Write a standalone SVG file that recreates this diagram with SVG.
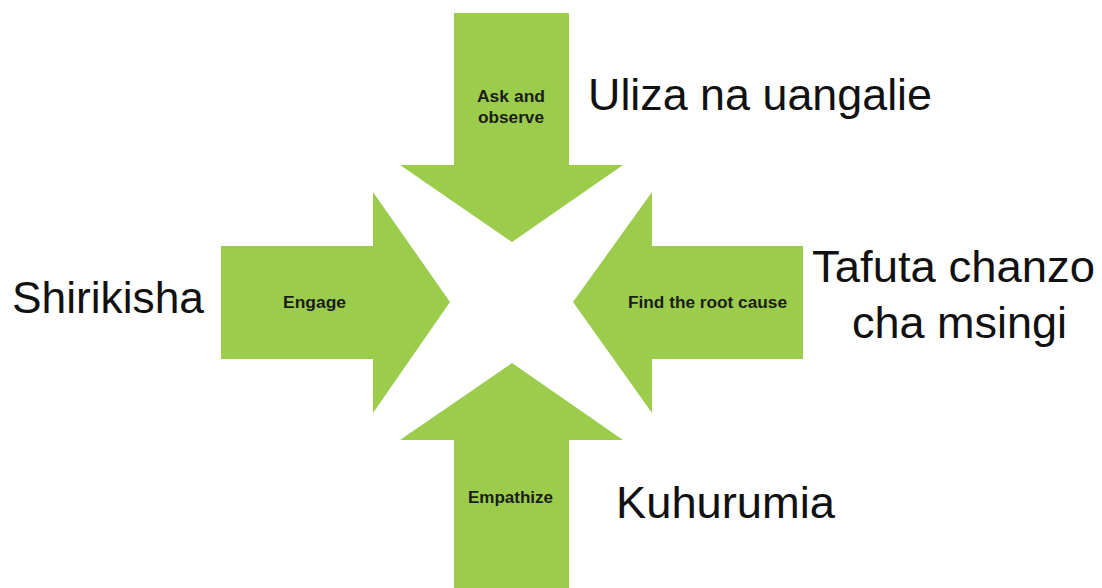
<svg xmlns="http://www.w3.org/2000/svg" width="1102" height="588" viewBox="0 0 1102 588">
<style>
.arrow{fill:#9bcc4c}
.lbl{font-family:"Liberation Sans",Arial,sans-serif;font-weight:bold;font-size:16px;fill:#1c1c1c;text-anchor:middle}
.big{font-family:"Liberation Sans",Arial,sans-serif;font-size:45px;fill:#111}
</style>
<rect width="1102" height="588" fill="#ffffff"/>
<g id="connectors"></g>
<g id="ask">
<polygon class="arrow" points="454,13 569,13 569,165 623,165 512,242 400,165 454,165"/>
<text class="lbl" x="511" y="102" textLength="68" lengthAdjust="spacingAndGlyphs">Ask and</text>
<text class="lbl" x="511" y="123" textLength="66" lengthAdjust="spacingAndGlyphs">observe</text>
</g>
<g id="engage">
<polygon class="arrow" points="221,246 373,246 373,192 450,302 373,413 373,359 221,359"/>
<text class="lbl" x="314.5" y="308" textLength="63" lengthAdjust="spacingAndGlyphs">Engage</text>
</g>
<g id="root">
<polygon class="arrow" points="803,246 652,246 652,192 573,302 652,413 652,359 803,359"/>
<text class="lbl" x="707.5" y="308" textLength="159" lengthAdjust="spacingAndGlyphs">Find the root cause</text>
</g>
<g id="empathize">
<polygon class="arrow" points="454,588 569,588 569,440 623,440 512,363 400,440 454,440"/>
<text class="lbl" x="510.5" y="503" textLength="85" lengthAdjust="spacingAndGlyphs">Empathize</text>
</g>
<g id="sw-uliza"><text class="big" x="588" y="110" textLength="344" lengthAdjust="spacingAndGlyphs">Uliza na uangalie</text></g>
<g id="sw-shirikisha"><text class="big" x="12" y="313" textLength="192" lengthAdjust="spacingAndGlyphs">Shirikisha</text></g>
<g id="sw-tafuta">
<text class="big" x="812" y="282" textLength="283" lengthAdjust="spacingAndGlyphs">Tafuta chanzo</text>
<text class="big" x="852" y="338" textLength="215" lengthAdjust="spacingAndGlyphs">cha msingi</text>
</g>
<g id="sw-kuhurumia"><text class="big" x="616" y="518" textLength="219" lengthAdjust="spacingAndGlyphs">Kuhurumia</text></g>
</svg>
